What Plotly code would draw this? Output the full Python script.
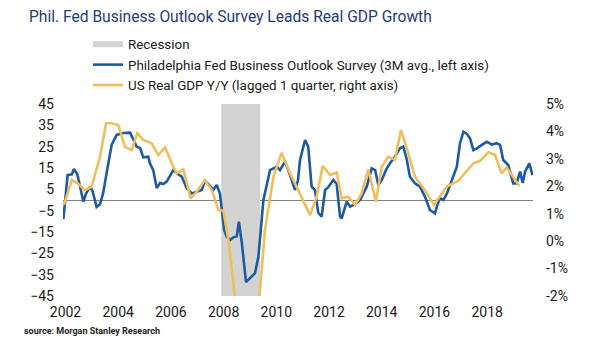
import plotly.graph_objects as go

# ---------------- data ----------------
philly_x = [2001.92, 2002.08, 2002.24, 2002.32, 2002.45, 2002.55, 2002.68, 2002.78, 2002.93, 2003.03,
            2003.18, 2003.31, 2003.43, 2003.56, 2003.75, 2003.94, 2004.19, 2004.45, 2004.57, 2004.70,
            2004.83, 2004.95, 2005.14, 2005.21, 2005.33, 2005.46, 2005.59, 2005.71, 2005.84, 2006.09,
            2006.22, 2006.41, 2006.60, 2006.79, 2006.98, 2007.17, 2007.29, 2007.42, 2007.61, 2007.74,
            2007.86, 2007.97, 2008.02, 2008.12, 2008.24, 2008.37, 2008.50, 2008.58, 2008.69, 2008.85,
            2009.00, 2009.19, 2009.32, 2009.51, 2009.76, 2010.02, 2010.14, 2010.33, 2010.52, 2010.71,
            2010.82, 2010.90, 2011.09, 2011.21, 2011.34, 2011.47, 2011.59, 2011.72, 2011.85, 2011.97,
            2012.16, 2012.29, 2012.42, 2012.48, 2012.67, 2012.80, 2012.99, 2013.18, 2013.43, 2013.62,
            2013.75, 2013.87, 2014.00, 2014.19, 2014.32, 2014.50, 2014.69, 2014.82, 2014.95, 2015.07,
            2015.26, 2015.45, 2015.64, 2015.83, 2016.02, 2016.09, 2016.21, 2016.34, 2016.47, 2016.66,
            2016.85, 2016.97, 2017.10, 2017.23, 2017.35, 2017.48, 2017.61, 2017.80, 2017.99, 2018.18,
            2018.36, 2018.49, 2018.61, 2018.80, 2018.99, 2019.12, 2019.25, 2019.35, 2019.44, 2019.60,
            2019.72]
philly_y = [-9, 11.7, 12, 14.5, 12, 6.5, -0.8, 3, 6.25, 4,
            -3.3, -2, 3.3, 12.6, 25.8, 30.5, 31.4, 31.6, 28, 25,
            24.4, 20, 20.3, 17, 14, 5.6, 8, 7.5, 8.6, 14,
            12.5, 11, 5.5, 3.1, 3.8, 4.7, 9, 7.5, 4.7, 7,
            3, -9.4, -14, -17.2, -18.8, -17.5, -17, -10.2, -20, -38.5,
            -36.6, -34.3, -26.6, 0, 14, 15.5, 14, 18, 11.7, 4.7,
            9, 18.75, 28.1, 25, 6.25, 4.5, -6, -7.8, 4.7, 6,
            9.4, 7.5, -7.8, -8.6, -0.8, -3.1, -2, 0, 6.25, 14.8,
            14, 7, 9.4, 14.8, 17.3, 20.3, 24.2, 25, 19, 10.9,
            7.8, 6.25, 1.6, -4.7, -6.3, -3.1, 1, 0, 3, 9.4,
            15.6, 26.6, 32, 31, 28.9, 23.4, 24.2, 25.8, 27.3, 26,
            26.6, 25.8, 18.75, 16.4, 7.8, 7.8, 13.3, 8, 13.3, 17.2,
            11.7]

gdp_x = [2001.94, 2002.24, 2002.47, 2002.74, 2002.99, 2003.31, 2003.54, 2003.75, 2004.00, 2004.26,
         2004.51, 2004.72, 2004.95, 2005.27, 2005.52, 2005.78, 2006.03, 2006.22, 2006.47, 2006.75,
         2006.98, 2007.29, 2007.55, 2007.80, 2007.99, 2008.18, 2008.45, 2008.70, 2008.95, 2009.20,
         2009.37, 2009.57, 2009.89, 2010.20, 2010.52, 2010.83, 2011.28, 2011.53, 2011.76, 2012.04,
         2012.29, 2012.48, 2012.73, 2012.99, 2013.24, 2013.49, 2013.78, 2014.00, 2014.25, 2014.50,
         2014.73, 2014.95, 2015.26, 2015.64, 2015.98, 2016.47, 2016.91, 2017.48, 2017.73, 2018.05,
         2018.30, 2018.55, 2018.74, 2019.22]
gdp_y = [1.32, 2.23, 2.1, 1.86, 1.99, 3.08, 4.3, 4.3, 4.23, 3.44,
         3.32, 3.93, 3.69, 3.57, 3.14, 3.42, 2.84, 2.47, 2.62, 1.56,
         1.8, 2.23, 1.86, 1.14, 1.11, 0.04, -2.2, -3.3, -4.0, -3.2,
         -1.9, 0.41, 2.35, 3.22, 2.47, 1.86, 0.95, 1.62, 2.74, 2.41,
         2.5, 1.56, 1.62, 1.32, 1.74, 2.62, 1.44, 2.71, 3.08, 2.96,
         4.05, 3.38, 2.35, 1.86, 1.32, 1.99, 2.2, 2.84, 2.93, 3.24,
         3.14, 2.47, 2.69, 2.01]

recession_start = 2007.91
recession_end = 2009.39

year_ticks = [2002, 2004, 2006, 2008, 2010, 2012, 2014, 2016, 2018]
left_ticks = [45, 35, 25, 15, 5, -5, -15, -25, -35, -45]
right_ticks = [5, 4, 3, 2, 1, 0, -1, -2]
right_labels = [f"{v}%" for v in right_ticks]

BLUE = "#1c5aa3"
GOLD = "#f0be5a"
FONT = "Roboto, 'Liberation Sans', sans-serif"
TXT = "#1a1a1a"

fig = go.Figure()

fig.add_trace(go.Scatter(
    x=[recession_start, recession_end, recession_end, recession_start, recession_start],
    y=[-45, -45, 45, 45, -45],
    fill="toself", fillcolor="#d3d3d3", mode="none",
    name="Recession", hoverinfo="skip"))

fig.add_trace(go.Scatter(
    x=philly_x, y=philly_y, mode="lines",
    line=dict(color=BLUE, width=2.6),
    name="Philadelphia Fed Business Outlook Survey (3M avg., left axis)"))

fig.add_trace(go.Scatter(
    x=gdp_x, y=gdp_y, mode="lines", yaxis="y2",
    line=dict(color=GOLD, width=2.6),
    name="US Real GDP Y/Y (lagged 1 quarter, right axis)"))

fig.update_layout(
    width=605, height=341,
    margin=dict(l=63, r=72, t=104, b=45, autoexpand=False),
    paper_bgcolor="white", plot_bgcolor="white",
    font=dict(family=FONT, color=TXT, size=14),
    title=dict(text="Phil. Fed Business Outlook Survey Leads Real GDP Growth",
               x=29 / 605, xanchor="left", xref="container",
               y=1 - 17 / 341, yanchor="middle", yref="container",
               font=dict(family=FONT, size=15.6, color="#1f3c78")),
    showlegend=True,
    legend=dict(xref="container", yref="container",
                x=88 / 605, xanchor="left", y=1 - 29 / 341, yanchor="top",
                font=dict(family=FONT, size=13.4, color=TXT),
                bgcolor="rgba(0,0,0,0)", borderwidth=0, traceorder="normal"),
    xaxis=dict(range=[2001.905, 2019.74], tickvals=year_ticks,
               ticktext=[str(y) for y in year_ticks], tickangle=0,
               showgrid=False, zeroline=False, showline=False, ticks="",
               ticklabelstandoff=6, tickfont=dict(size=14, color=TXT)),
    yaxis=dict(range=[-45, 45], tickvals=left_ticks,
               showgrid=False, zeroline=True, zerolinecolor="#808080", zerolinewidth=1,
               showline=False, ticks="", ticklabelstandoff=8,
               tickfont=dict(size=14, color=TXT)),
    yaxis2=dict(range=[-2, 5], tickvals=right_ticks, ticktext=right_labels,
                overlaying="y", side="right",
                showgrid=False, zeroline=False, showline=False, ticks="",
                ticklabelstandoff=12, tickfont=dict(size=14, color=TXT)),
    annotations=[dict(text="<b>source: Morgan Stanley Research</b>",
                      xref="paper", yref="paper", x=-41 / 470, y=-35 / 192,
                      xanchor="left", yanchor="middle", showarrow=False,
                      font=dict(family=FONT, size=9, color="#222222"))],
)

fig.write_html("out.html")
